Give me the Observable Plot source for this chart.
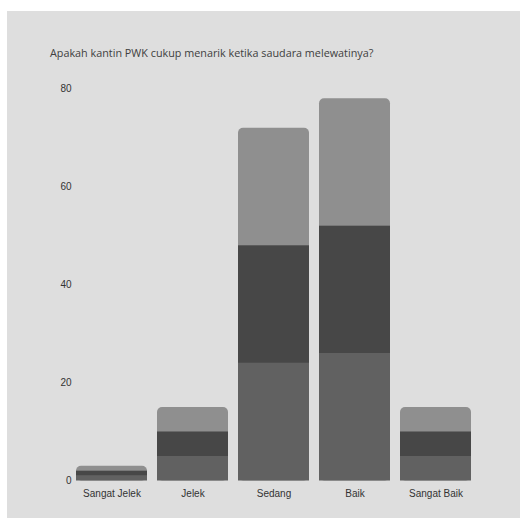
<!DOCTYPE html>
<html>
<head>
<meta charset="utf-8">
<script src="https://cdn.jsdelivr.net/npm/d3@7"></script>
<script src="https://cdn.jsdelivr.net/npm/@observablehq/plot@0.6"></script>
<style>
  html, body { margin: 0; padding: 0; background: #ffffff; }
  #panel {
    position: absolute; left: 7px; top: 11px; width: 513px; height: 507px;
    background: #dedede; overflow: hidden;
  }
  #title {
    position: absolute; left: 43px; top: 35px;
    font-family: "Open Sans", sans-serif; font-size: 10.8px; line-height: 13px;
    color: #404040; white-space: nowrap;
  }
  #chart { position: absolute; left: 0; top: 60px; }
</style>
</head>
<body>
<div id="panel">
  <div id="title">Apakah kantin PWK cukup menarik ketika saudara melewatinya?</div>
  <div id="chart"></div>
</div>
<script>
// Survey answers per rating, split into three stacked layers
const categories = ["Sangat Jelek", "Jelek", "Sedang", "Baik", "Sangat Baik"];
const layerBottom = [1, 5, 24, 26, 5];
const layerMiddle = [1, 5, 24, 26, 5];
const layerTop = [1, 5, 24, 26, 5];
const yTicks = [0, 20, 40, 60, 80];

const colors = { bottom: "#616161", middle: "#474747", top: "#8f8f8f" };

// Full bar (rounded top) in the top layer colour
const totals = categories.map((c, i) => ({
  category: c,
  total: layerBottom[i] + layerMiddle[i] + layerTop[i]
}));

// Lower two layers drawn over the full bar
const lower = [];
categories.forEach((c, i) => {
  lower.push({ category: c, layer: "bottom", value: layerBottom[i] });
  lower.push({ category: c, layer: "middle", value: layerMiddle[i] });
});

const chart = Plot.plot({
  width: 513,
  height: 440,
  marginTop: 17.5,
  marginBottom: 30.5,
  marginLeft: 64,
  marginRight: 44,
  style: { background: "transparent", fontFamily: "'Liberation Sans', Arial, sans-serif", fontSize: "10px", color: "#333" },
  x: { domain: categories, paddingInner: 0.12, paddingOuter: 0.06, label: null, tickSize: 0, tickPadding: 9 },
  y: { domain: [0, 80], ticks: yTicks, label: null, tickSize: 0, tickPadding: 0 },
  color: { domain: ["bottom", "middle"], range: [colors.bottom, colors.middle] },
  marks: [
    Plot.barY(totals, { x: "category", y: "total", fill: colors.top, rx: 5 }),
    Plot.barY(lower, Plot.stackY({ x: "category", y: "value", fill: "layer", order: ["bottom", "middle"] }))
  ]
});

document.getElementById("chart").appendChild(chart);
</script>
</body>
</html>
